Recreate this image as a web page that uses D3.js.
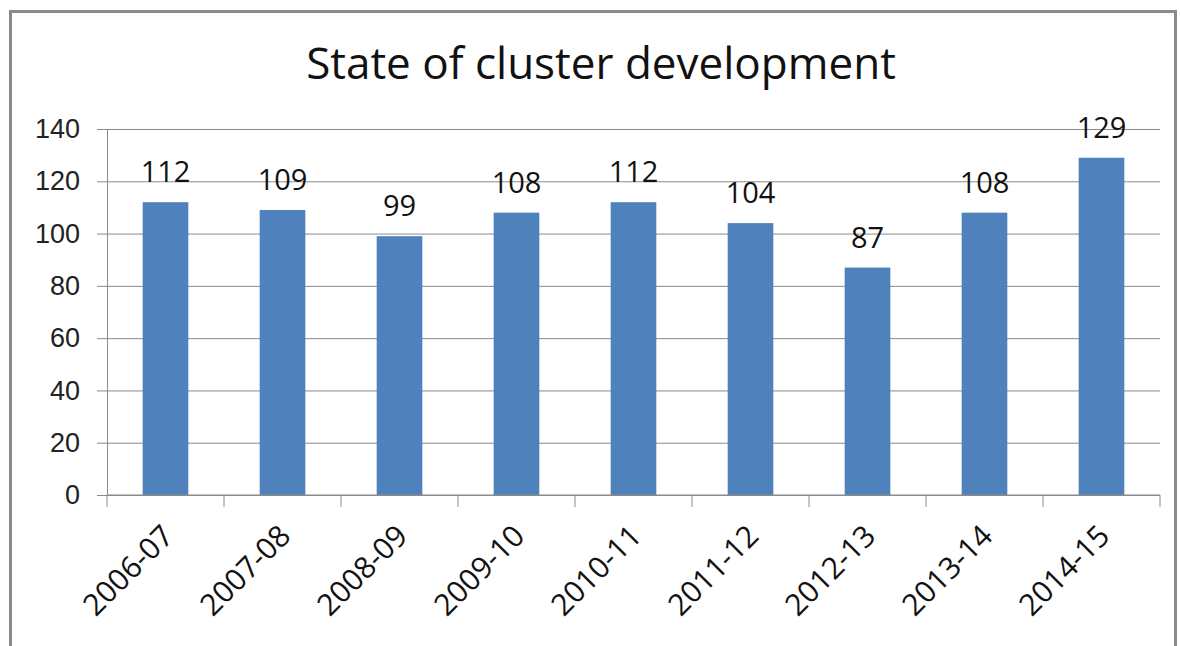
<!DOCTYPE html>
<html>
<head>
<meta charset="utf-8">
<script src="https://cdn.jsdelivr.net/npm/d3@7"></script>
<style>
  body { margin: 0; background: #fff; }
  svg { display: block; font-family: "Open Sans", "Noto Sans", sans-serif; }
</style>
</head>
<body>
<div id="chart"></div>
<script>
// values
const years = ["2006-07", "2007-08", "2008-09", "2009-10", "2010-11", "2011-12", "2012-13", "2013-14", "2014-15"]
const clusters = [112, 109, 99, 108, 112, 104, 87, 108, 129]
const yTicks = [0, 20, 40, 60, 80, 100, 120, 140]

const W = 1180, H = 646
const margin = { top: 129, right: 20, bottom: 151, left: 107 }
const width = 1160 - margin.left
const height = 495 - margin.top

const svg = d3.select("#chart").append("svg")
  .attr("width", W)
  .attr("height", H)

// outer frame
svg.append("rect")
  .attr("x", 10.5).attr("y", 11.5)
  .attr("width", 1165).attr("height", 650)
  .attr("fill", "none")
  .attr("stroke", "#8a8a8a")
  .attr("stroke-width", 3)

svg.append("text")
  .attr("x", 601).attr("y", 79)
  .attr("text-anchor", "middle")
  .attr("font-size", 44)
  .attr("fill", "#111")
  .text("State of cluster development")

const g = svg.append("g")
  .attr("transform", "translate(" + margin.left + "," + margin.top + ")")

const x = d3.scaleBand()
  .domain(years)
  .range([0, width])
  .paddingInner(0.61)
  .paddingOuter(0.305)

const y = d3.scaleLinear()
  .domain([0, 140])
  .range([height, 0])

// gridlines + left ticks
const yAxis = g.append("g")
  .call(d3.axisLeft(y).tickValues(yTicks).tickSize(10).tickPadding(17))
yAxis.select(".domain").attr("stroke", "#8a8a8a")
yAxis.selectAll(".tick line").attr("stroke", "#8a8a8a")
yAxis.selectAll(".tick text").attr("font-size", 27).attr("fill", "#222")
yAxis.selectAll(".tick").append("line")
  .attr("x1", 0).attr("x2", width)
  .attr("stroke", "#8a8a8a")

g.selectAll(".bar")
  .data(years)
  .enter().append("rect")
  .attr("class", "bar")
  .attr("x", d => x(d))
  .attr("width", x.bandwidth())
  .attr("y", (d, i) => y(clusters[i]))
  .attr("height", (d, i) => height - y(clusters[i]))
  .attr("fill", "#4f81bd")

g.selectAll(".lbl")
  .data(years)
  .enter().append("text")
  .attr("class", "lbl")
  .attr("x", d => x(d) + x.bandwidth() / 2)
  .attr("y", (d, i) => y(clusters[i]) - 20)
  .attr("text-anchor", "middle")
  .attr("font-size", 29)
  .attr("fill", "#111")
  .text((d, i) => clusters[i])

// x axis with ticks at category boundaries
const step = width / years.length
const xAxis = g.append("g")
  .attr("transform", "translate(0," + height + ")")
xAxis.append("line")
  .attr("x1", 0).attr("x2", width)
  .attr("stroke", "#8a8a8a")
xAxis.selectAll(".xt")
  .data(d3.range(years.length + 1))
  .enter().append("line")
  .attr("x1", i => i * step).attr("x2", i => i * step)
  .attr("y1", 0).attr("y2", 12)
  .attr("stroke", "#8a8a8a")
xAxis.selectAll(".xl")
  .data(years)
  .enter().append("text")
  .attr("transform", d => "translate(" + (x(d) + x.bandwidth() / 2 - 5) + ",28) rotate(-45)")
  .attr("text-anchor", "end")
  .attr("dy", "0.7em")
  .attr("font-size", 30)
  .attr("fill", "#111")
  .text(d => d)
</script>
</body>
</html>
